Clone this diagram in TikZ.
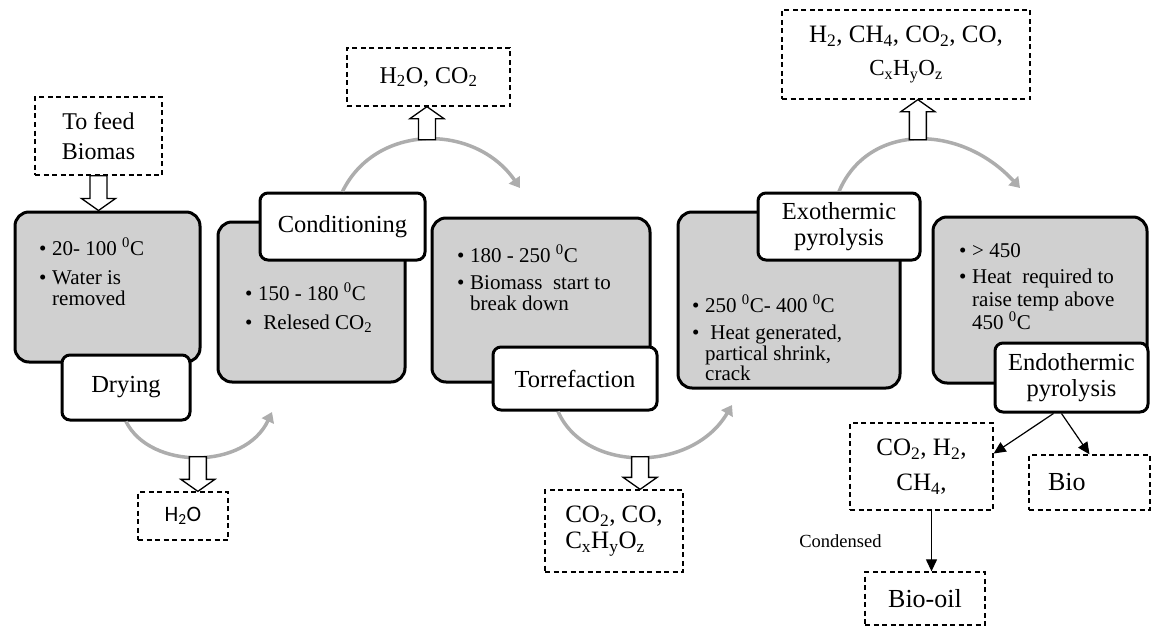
\documentclass[tikz,border=0pt]{standalone}
\usepackage{fontspec}
\setmainfont{Liberation Serif}
\newfontfamily\calibri{Carlito}
\usetikzlibrary{arrows.meta,calc}
\definecolor{grisfond}{HTML}{D0D0D0}
\definecolor{grisarc}{HTML}{ADADAD}
\newcommand{\puce}{\makebox[13pt][l]{\textbullet}}
\newcommand{\retrait}{\hspace*{13pt}}
\newcommand{\degC}{\textsuperscript{0}C}
\newcommand{\flechecreuse}[2]{%
  \draw[creux] let \p1=(#1), \p2=(#2), \n1={sign(\y2-\y1)} in
    ({\x1-8.5pt},\y1) -- ({\x1-8.5pt},{\y2-(\n1)*12pt}) -- ({\x1-17pt},{\y2-(\n1)*12pt})
    -- (\x1,\y2) -- ({\x1+17pt},{\y2-(\n1)*12pt}) -- ({\x1+8.5pt},{\y2-(\n1)*12pt})
    -- ({\x1+8.5pt},\y1) -- cycle;}
\tikzset{
  etape/.style={draw=black,line width=3pt,rounded corners=14pt,fill=grisfond},
  etiquette/.style={draw=black,line width=3pt,rounded corners=8pt,fill=white,align=center,
                    font=\fontsize{24.5}{25.5}\selectfont,inner sep=0pt},
  puces/.style={anchor=north west,align=left,font=\fontsize{21}{20.5}\selectfont,inner sep=0pt},
  produit/.style={draw=black,line width=1.3pt,dash pattern=on 5pt off 3.5pt,align=center,
                  font=\fontsize{24}{26}\selectfont,inner sep=0pt},
  arcgris/.style={grisarc,line width=3.5pt,-{Triangle[length=10pt,width=13pt]}},
  creux/.style={draw=black,line width=1.3pt,fill=white},
  fleche/.style={-{Triangle[length=12pt,width=11pt]},line width=1.2pt},
}
\begin{document}
\begin{tikzpicture}[x=1pt,y=-1pt]
  \useasboundingbox (0,0) rectangle (1152,626);
  % etapes
  \node[etape,minimum width=185pt,minimum height=150pt] (seche) at (107.5,287) {};
  \node[puces] (tseche) at (39,238) {\puce 20- 100 \degC\\[8.5pt]\puce Water is\\\retrait removed};
  \node[etiquette,minimum width=128pt,minimum height=65pt] (lseche) at (126,387.5) {Drying};
  \node[etape,minimum width=187pt,minimum height=160pt] (cond) at (311.5,302) {};
  \node[puces] (tcond) at (245,283) {\puce 150 - 180 \degC\\[8.5pt]\puce\ Relesed CO\textsubscript{2}};
  \node[etiquette,minimum width=165pt,minimum height=67pt] (lcond) at (342.5,226.5) {Conditioning};
  \node[etape,minimum width=218pt,minimum height=164pt] (torr) at (541,300) {};
  \node[puces] (ttorr) at (457,245) {\puce 180 - 250 \degC\\[6.5pt]\puce Biomass\ \ start to\\\retrait break down};
  \node[etiquette,minimum width=164pt,minimum height=63pt] (ltorr) at (575,378.5) {Torrefaction};
  \node[etape,minimum width=222pt,minimum height=176pt] (exo) at (789,300) {};
  \node[puces] (texo) at (692,295) {\puce 250 \degC- 400 \degC\\[6.5pt]\puce\ Heat generated,\\\retrait partical shrink,\\\retrait crack};
  \node[etiquette,minimum width=162pt,minimum height=67pt] (lexo) at (839,226.5) {Exothermic\\pyrolysis};
  \node[etape,minimum width=214pt,minimum height=166pt] (endo) at (1040,300) {};
  \node[puces,font=\fontsize{21}{23}\selectfont] (tendo) at (959,243) {\puce > 450\\[3pt]\puce Heat\ \ required to\\\retrait raise temp above\\\retrait 450 \degC};
  \node[etiquette,minimum width=153pt,minimum height=69pt] (lendo) at (1071.5,377.5) {Endothermic\\pyrolysis};
  % entrees et sorties
  \node[produit,minimum width=127pt,minimum height=78pt] (bio) at (98.5,136) {To feed\\[4pt]Biomas};
  \node[produit,font=\calibri\fontsize{22}{24}\selectfont,minimum width=90pt,minimum height=48pt] (eau) at (183,516) {H\textsubscript{2}O};
  \node[produit,minimum width=163pt,minimum height=58pt] (vap) at (428.5,77) {H\textsubscript{2}O, CO\textsubscript{2}};
  \node[produit,align=left,font=\fontsize{25}{26}\selectfont,minimum width=138pt,minimum height=82pt] (gaz1) at (614,531) {CO\textsubscript{2}, CO,\\C\textsubscript{x}H\textsubscript{y}O\textsubscript{z}};
  \node[produit,font=\fontsize{25}{26}\selectfont,minimum width=248pt,minimum height=89pt] (gaz2) at (906,54.5) {H\textsubscript{2}, CH\textsubscript{4}, CO\textsubscript{2}, CO,\\[7pt]{\fontsize{23}{24}\selectfont C\textsubscript{x}H\textsubscript{y}O\textsubscript{z}}};
  \node[produit,font=\fontsize{25}{26}\selectfont,minimum width=143pt,minimum height=87pt] (gaz3) at (921.5,466.5) {CO\textsubscript{2}, H\textsubscript{2},\\[9pt]CH\textsubscript{4},};
  \node[produit,align=left,font=\fontsize{26}{28}\selectfont,text width=83pt,inner xsep=19pt,minimum height=55pt] (char) at (1089.5,482.5) {Bio};
  \node[produit,font=\fontsize{26}{28}\selectfont,minimum width=120pt,minimum height=53pt] (huile) at (925,598.5) {Bio-oil};
  % arcs gris
  \coordinate (fin1) at (272,412);
  \coordinate (fin2) at (520,188);
  \coordinate (fin3) at (732,405);
  \coordinate (fin4) at (1020,188);
  \draw[arcgris] (lseche.south) .. controls (150,470) and (245,470) .. (fin1) coordinate[pos=0.5] (bas1);
  \draw[arcgris] (lcond.north) .. controls (376,123) and (475,123) .. (fin2) coordinate[pos=0.5] (haut2);
  \draw[arcgris] ([xshift=-17pt]ltorr.south) .. controls (585,473) and (692,473) .. (fin3) coordinate[pos=0.5] (bas3);
  \draw[arcgris] (lexo.north) .. controls (868,123) and (960,123) .. (fin4) coordinate[pos=0.5] (haut4);
  % fleches creuses
  \flechecreuse{bio.south}{seche.north}
  \flechecreuse{bas1}{eau.north}
  \flechecreuse{haut2}{vap.south}
  \flechecreuse{bas3}{gaz1.north}
  \flechecreuse{haut4}{gaz2.south}
  % produits de la pyrolyse
  \draw[fleche] ([xshift=-18pt]lendo.south) -- ([yshift=13pt]gaz3.east);
  \draw[fleche] ([xshift=-10pt]lendo.south) -- (char.north);
  \draw[fleche] ([xshift=10pt]gaz3.south) -- ([xshift=10pt]gaz3.south |- huile.north)
    node[midway,left=46pt,font=\fontsize{18.5}{20}\selectfont]{Condensed};
\end{tikzpicture}
\end{document}
